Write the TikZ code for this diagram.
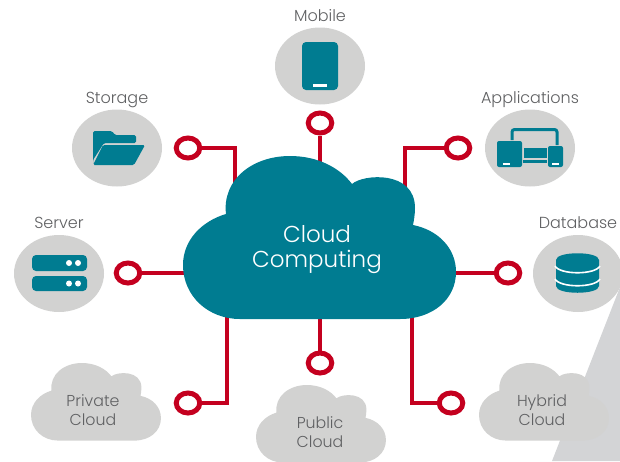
\documentclass[tikz,border=0pt]{standalone}
\usepackage{fontspec}
\setmainfont{Poppins Light}
\usepackage{xcolor}
\usetikzlibrary{shapes.geometric,positioning}
\definecolor{tealcloud}{HTML}{007C91}
\definecolor{wirered}{HTML}{C4001F}
\definecolor{greydisc}{HTML}{D2D2D1}
\definecolor{greyback}{HTML}{D3D4D6}
\definecolor{greytext}{HTML}{5F6062}

\begin{document}
\begin{tikzpicture}[
    x=1pt, y=-1pt,
    disc/.style={ellipse, fill=greydisc, inner sep=0pt, minimum width=90pt, minimum height=77pt},
    ring/.style={ellipse, draw=wirered, line width=5pt, fill=white, inner sep=0pt, minimum width=23.5pt, minimum height=20pt},
    wire/.style={draw=wirered, line width=4.5pt},
    caption/.style={text=greytext, font=\fontsize{16}{16}\selectfont, inner sep=0pt, text depth=0pt},
    cloudcaption/.style={text=greytext, font=\fontsize{15.8}{19}\selectfont, align=center, inner sep=0pt},
    icon/.style={fill=tealcloud},
    pics/cloudshape/.style={code={
        \fill[#1] (57,163) .. controls (25,163) and (0,140) .. (0,109)
            .. controls (0,84) and (19,65) .. (43,58)
            .. controls (39,24) and (69,0) .. (107,0)
            .. controls (135,0) and (157,12) .. (169,28)
            .. controls (180,18) and (232,14) .. (232,52)
            .. controls (232,58) and (231,64) .. (230,69)
            .. controls (255,74) and (273,92) .. (273,116)
            .. controls (273,143) and (250,163) .. (217,163) -- cycle;
    }}
]
    \useasboundingbox (0,0) rectangle (620,461);

    % Backdrop
    \fill[greyback] (622,282) -- (552,461) -- (622,461) -- cycle;

    % Grey discs
    \node[disc] (mobile) at (320,66) {};
    \node[disc] (storage) at (117,148) {};
    \node[disc] (apps) at (530,148) {};
    \node[disc] (server) at (59,273.5) {};
    \node[disc] (database) at (578,273.5) {};

    % Labels
    \node[caption, above=6pt of mobile] (mobilelabel) {Mobile};
    \node[caption, above=6pt of storage] (storagelabel) {Storage};
    \node[caption, above=6pt of apps] (appslabel) {Applications};
    \node[caption, above=6pt of server] (serverlabel) {Server};
    \node[caption, above=6pt of database] (databaselabel) {Database};

    % Rings
    \node[ring] (mobilering) at (320,123) {};
    \node[ring] (storagering) at (188,148) {};
    \node[ring] (appsring) at (458,148) {};
    \node[ring] (serverring) at (128,273) {};
    \node[ring] (databasering) at (508,273) {};
    \node[ring] (privatering) at (188,403) {};
    \node[ring] (publicring) at (320,363) {};
    \node[ring] (hybridring) at (451,403) {};

    % Ends under the cloud
    \coordinate (mobileend) at (320,180);
    \coordinate (storageend) at (235,190);
    \coordinate (appsend) at (405,190);
    \coordinate (serverend) at (200,273);
    \coordinate (databaseend) at (440,273);
    \coordinate (privateend) at (227,310);
    \coordinate (publicend) at (320,310);
    \coordinate (hybridend) at (412,310);

    % Connectors
    \draw[wire] (mobilering) -- (mobileend);
    \draw[wire] (storagering) -| (storageend);
    \draw[wire] (appsring) -| (appsend);
    \draw[wire] (serverring) -- (serverend);
    \draw[wire] (databasering) -- (databaseend);
    \draw[wire] (privatering) -| (privateend);
    \draw[wire] (publicring) -- (publicend);
    \draw[wire] (hybridring) -| (hybridend);

    % Clouds
    \pic at (183,156) {cloudshape=tealcloud};
    \pic[scale=.476] at (31,363) {cloudshape=greydisc};
    \pic[scale=.476] at (256,385) {cloudshape=greydisc};
    \pic[scale=.476] at (479,363) {cloudshape=greydisc};

    % Cloud texts
    \node[white, align=center, inner sep=0pt, font=\fontsize{23}{25}\selectfont] (maintext) at (317,250) {Cloud\\Computing};
    \node[cloudcaption] (privatetext) at (93,410) {Private\\Cloud};
    \node[cloudcaption] (publictext) at (320,432) {Public\\Cloud};
    \node[cloudcaption] (hybridtext) at (542,410) {Hybrid\\Cloud};

    % Mobile icon
    \fill[icon, rounded corners=4pt] (302,42) rectangle (338,90);
    \fill[white] (313,84) rectangle (327,87);

    % Storage icon
    \fill[icon, rounded corners=1.5pt] (93,165) -- (93,131) -- (112,131) -- (115,135) -- (136,135) -- (136,143) -- (104,143) -- (93,160) -- cycle;
    \fill[icon, rounded corners=1.5pt] (103,145) -- (145,145) -- (134,165) -- (93,165) -- cycle;

    % Applications icon
    \draw[tealcloud, line width=3pt, rounded corners=2.5pt] (512,140) -- (512,129.5) -- (557,129.5) -- (557,145);
    \fill[icon, rounded corners=2pt] (497,141) rectangle (522,167);
    \fill[white] (503,163) rectangle (510,165);
    \fill[icon, rounded corners=2pt] (548,146) rectangle (563,167);
    \fill[white] (552,163) rectangle (559,165);
    \fill[icon] (524,148) rectangle (547,158);
    \fill[icon] (523,159.5) rectangle (547,163);

    % Server icon
    \fill[icon, rounded corners=4pt] (32,255) rectangle (87,271);
    \fill[icon, rounded corners=4pt] (32,276) rectangle (87,291);
    \foreach \dotx in {69,78} {
        \fill[white] (\dotx,263) circle (3pt);
        \fill[white] (\dotx,283.5) circle (3pt);
    }

    % Database icon
    \fill[icon] (556,260) .. controls (556,251) and (599,251) .. (599,260)
        -- (599,286) .. controls (599,295) and (556,295) .. (556,286) -- cycle;
    \draw[white, line width=1.6pt] (555,266) .. controls (560,275) and (595,275) .. (600,266);
    \draw[white, line width=1.6pt] (555,279) .. controls (560,288) and (595,288) .. (600,279);
\end{tikzpicture}
\end{document}
